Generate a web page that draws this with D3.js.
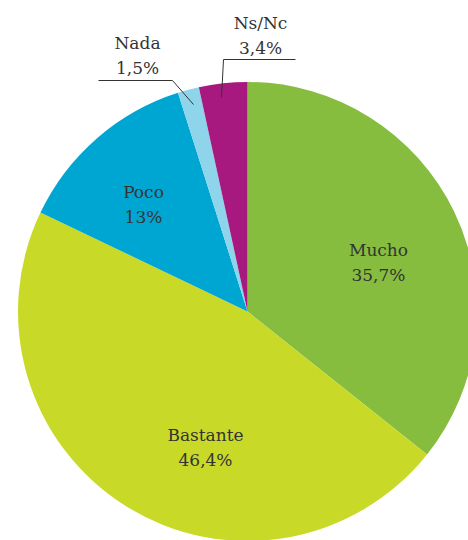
<!DOCTYPE html>
<meta charset="utf-8">
<script src="https://d3js.org/d3.v7.min.js"></script>
<style>
  body { margin: 0; background: #fff; }
  svg text { font-family: "DejaVu Serif", serif; font-size: 17px; font-weight: 300; fill: #333; }
</style>
<body>
<div id="my_dataviz"></div>
<script>
// data
var categories = ["Mucho", "Bastante", "Poco", "Nada", "Ns/Nc"];
var values = [35.7, 46.4, 13, 1.5, 3.4];
var valueLabels = ["35,7%", "46,4%", "13%", "1,5%", "3,4%"];
var colors = ["#86bd3e", "#c9d928", "#00a6d2", "#8ed4eb", "#a8197f"];

var width = 468, height = 540;
var cx = 247.5, cy = 311.5, radius = 229.5;

var svg = d3.select("#my_dataviz")
  .append("svg")
  .attr("width", width)
  .attr("height", height);

var g = svg.append("g")
  .attr("transform", "translate(" + cx + "," + cy + ")");

var data = categories.map(function(c, i) {
  return { name: c, value: values[i], label: valueLabels[i], color: colors[i] };
});

var pie = d3.pie().sort(null).value(function(d) { return d.value; });
var arcs = pie(data);

var arc = d3.arc().innerRadius(0).outerRadius(radius);

g.selectAll("path")
  .data(arcs)
  .enter()
  .append("path")
  .attr("d", arc)
  .attr("fill", function(d) { return d.data.color; });

// labels inside for big slices
var inside = {
  "Mucho": [131, -56],
  "Bastante": [-42, 129],
  "Poco": [-104, -114]
};
// outside labels with leader lines
var outside = {
  "Nada": { text: [-110, -263], line: [[-149, -231], [-75, -231], [-54, -207]] },
  "Ns/Nc": { text: [13, -283], line: [[48, -252], [-24, -252], [-26, -214]] }
};

arcs.forEach(function(d) {
  var n = d.data.name;
  var pos = inside[n] ? inside[n] : outside[n].text;
  var t = g.append("text")
    .attr("text-anchor", "middle")
    .attr("x", pos[0])
    .attr("y", pos[1]);
  t.append("tspan").attr("x", pos[0]).text(n);
  t.append("tspan").attr("x", pos[0]).attr("dy", 25).text(d.data.label);

  if (outside[n]) {
    g.append("path")
      .attr("d", d3.line()(outside[n].line))
      .attr("fill", "none")
      .attr("stroke", "#333")
      .attr("stroke-width", 1);
  }
});
</script>
</body>
